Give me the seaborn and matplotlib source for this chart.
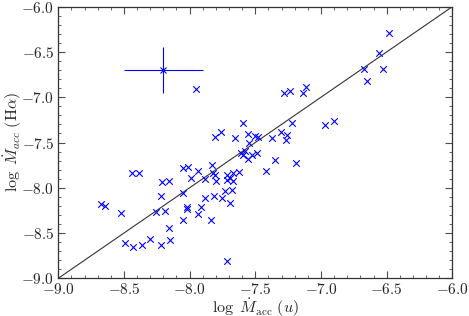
import numpy as np
import pandas as pd
import seaborn as sns
import matplotlib.pyplot as plt
from matplotlib.ticker import MultipleLocator

# accretion rates from u-band excess (x) and H-alpha (y), log Msun/yr
log_macc_u = [-8.439, -8.388, -8.210, -8.157, -8.050, -8.016, -7.940, -7.987, -8.220, -8.048,
              -8.673, -8.647, -8.520, -8.256, -8.190, -8.022, -8.018, -7.939, -8.053, -8.159,
              -8.494, -8.431, -8.363, -8.302, -8.216, -8.149, -7.917, -7.591, -7.805, -7.759,
              -7.652, -7.556, -7.500, -7.479, -7.546, -7.373, -7.302, -7.261, -7.266, -7.611,
              -7.591, -7.576, -7.525, -7.489, -7.556, -7.348, -7.419, -7.833, -7.820, -7.805,
              -7.799, -7.881, -7.718, -7.693, -7.667, -7.622, -7.718, -7.672, -7.728, -7.677,
              -7.881, -7.814, -7.754, -7.693, -7.835, -7.718, -7.281, -7.236, -7.134, -7.114,
              -7.218, -6.967, -6.901, -7.190, -6.480, -6.560, -6.672, -6.530, -6.652, -7.951]
log_macc_ha = [-7.840, -7.834, -7.933, -7.929, -7.782, -7.767, -7.820, -7.889, -8.091, -8.061,
               -8.183, -8.196, -8.275, -8.271, -8.260, -8.209, -8.240, -8.293, -8.351, -8.445,
               -8.614, -8.654, -8.636, -8.569, -8.629, -8.577, -8.207, -7.288, -7.436, -7.384,
               -7.450, -7.406, -7.428, -7.436, -7.502, -7.450, -7.387, -7.414, -7.472, -7.619,
               -7.635, -7.594, -7.635, -7.613, -7.679, -7.693, -7.818, -7.745, -7.834, -7.862,
               -7.922, -7.907, -7.862, -7.892, -7.834, -7.826, -7.914, -7.929, -8.039, -8.025,
               -8.108, -8.091, -8.108, -8.172, -8.351, -8.812, -6.957, -6.926, -6.957, -6.884,
               -7.288, -7.303, -7.266, -7.723, -6.287, -6.515, -6.685, -6.685, -6.817, -6.912]

# typical error bar
err_x, err_y = -8.2, -6.7
err_dx, err_dy = 0.3, 0.25

one_to_one = [-9.0, -6.0]

df = pd.DataFrame({"u": log_macc_u, "ha": log_macc_ha})

sns.set_style("ticks")
plt.rcParams['font.family'] = 'serif'
plt.rcParams['font.serif'] = ['cmr10', 'DejaVu Serif']
plt.rcParams['mathtext.fontset'] = 'cm'
plt.rcParams['axes.formatter.use_mathtext'] = True
plt.rcParams['axes.unicode_minus'] = True

fig = plt.figure(figsize=(4.69, 3.16), dpi=100)
ax = fig.add_axes([0.1243, 0.1193, 0.8401, 0.8595])

ax.plot(one_to_one, one_to_one, color='0.2', lw=0.8, zorder=1)
sns.scatterplot(data=df, x="u", y="ha", marker='x', color='blue', s=22,
                linewidth=0.8, ax=ax, zorder=3)
ax.errorbar([err_x], [err_y], xerr=[err_dx], yerr=[err_dy], fmt='x', color='blue',
            ms=4, lw=0.8, mew=0.8, capsize=0, zorder=3)

ax.set_xlim(-9, -6)
ax.set_ylim(-9, -6)
ax.xaxis.set_major_locator(MultipleLocator(0.5))
ax.xaxis.set_minor_locator(MultipleLocator(0.1))
ax.yaxis.set_major_locator(MultipleLocator(0.5))
ax.yaxis.set_minor_locator(MultipleLocator(0.1))
ax.tick_params(which='both', direction='in', top=True, right=True, color='0.3', labelsize=11)
ax.tick_params(which='major', length=5, width=0.8, pad=3)
ax.tick_params(which='minor', length=2.5, width=0.6)
for sp in ax.spines.values():
    sp.set_linewidth(0.9)
    sp.set_color('0.2')

ax.set_xlabel(r'$\log\ \dot{M}_{\rm acc}\ (u)$', fontsize=11.5, labelpad=-1)
ax.set_ylabel(r'$\log\ \dot{M}_{acc}\ ({\rm H}\alpha)$', fontsize=11.5, labelpad=-2)

plt.savefig("out.png", dpi=100)
